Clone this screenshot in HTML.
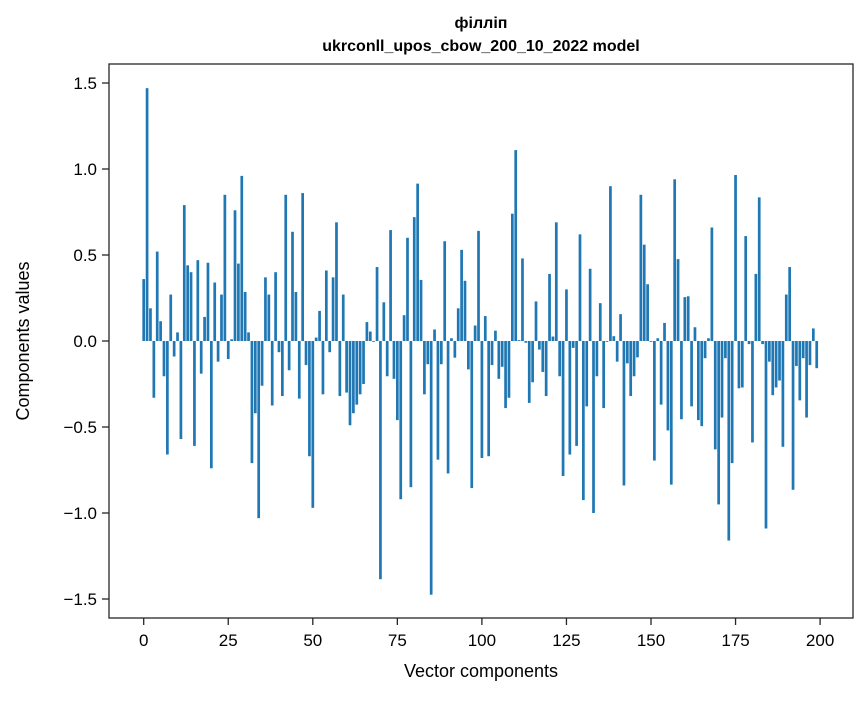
<!DOCTYPE html>
<html><head><meta charset="utf-8"><style>
body{margin:0;background:#fff;}
svg text{font-family:"Liberation Sans","DejaVu Sans",sans-serif;fill:#000;}
</style></head><body>
<svg id="chart" width="867" height="696" xmlns="http://www.w3.org/2000/svg">
<rect width="867" height="696" fill="#fff"/>
<text x="481" y="28" text-anchor="middle" font-size="16" font-weight="bold">філліп</text>
<text x="481" y="51" text-anchor="middle" font-size="16" font-weight="bold">ukrconll_upos_cbow_200_10_2022 model</text>
<g id="bars"></g>
<g id="yticks"></g>
<g id="xticks"></g>
<rect x="109" y="64" width="744" height="554" fill="none" stroke="#262626" stroke-width="1.3"/>
<text x="481" y="677" text-anchor="middle" font-size="18">Vector components</text>
<text x="0" y="0" transform="translate(29,341) rotate(-90)" text-anchor="middle" font-size="18">Components values</text>
</svg>
<script>
const values = [0.36,1.47,0.19,-0.33,0.52,0.115,-0.205,-0.66,0.27,-0.09,0.05,-0.57,0.79,0.44,0.40,-0.61,0.47,-0.19,0.14,0.455,-0.74,0.34,-0.12,0.27,0.85,-0.105,0.01,0.76,0.45,0.96,0.285,0.05,-0.71,-0.42,-1.03,-0.26,0.37,0.27,-0.375,0.40,-0.065,-0.32,0.85,-0.17,0.635,0.285,-0.335,0.86,-0.14,-0.67,-0.97,0.02,0.175,-0.31,0.41,-0.065,0.37,0.69,-0.32,0.27,-0.30,-0.49,-0.42,-0.37,-0.31,-0.25,0.11,0.055,-0.005,0.43,-1.385,0.225,-0.205,0.645,-0.22,-0.46,-0.92,0.15,0.60,-0.85,0.72,0.915,0.355,-0.31,-0.135,-1.475,0.067,-0.69,-0.135,0.58,-0.77,0.016,-0.097,0.19,0.53,0.35,-0.165,-0.855,0.09,0.64,-0.68,0.145,-0.67,-0.14,0.06,-0.22,-0.15,-0.39,-0.33,0.74,1.11,0.005,0.48,-0.01,-0.36,-0.24,0.23,-0.05,-0.18,-0.32,0.39,0.026,0.69,-0.205,-0.785,0.30,-0.66,-0.04,-0.61,0.62,-0.925,-0.38,0.42,-1.0,-0.205,0.22,-0.39,-0.005,0.90,0.028,-0.12,0.156,-0.84,-0.13,-0.32,-0.205,-0.095,0.85,0.56,0.33,-0.005,-0.695,0.016,-0.37,0.105,-0.52,-0.835,0.94,0.476,-0.455,0.255,0.26,-0.38,0.08,-0.46,-0.495,-0.10,0.016,0.66,-0.63,-0.95,-0.445,-0.10,-1.16,-0.71,0.965,-0.275,-0.27,0.61,-0.018,-0.59,0.39,0.835,-0.018,-1.09,-0.12,-0.315,-0.27,-0.23,-0.615,0.27,0.43,-0.865,-0.145,-0.345,-0.10,-0.445,-0.14,0.073,-0.158];
const yTicks = [-1.5,-1.0,-0.5,0.0,0.5,1.0,1.5];
const yTickLabels = ["\u22121.5","\u22121.0","\u22120.5","0.0","0.5","1.0","1.5"];
const xTicks = [0,25,50,75,100,125,150,175,200];
const xTickLabels = ["0","25","50","75","100","125","150","175","200"];

const NS="http://www.w3.org/2000/svg";
function xs(v){return 143.7+v*3.382;}
function ys(v){return 341-v*172;}
const bars=document.getElementById('bars');
values.forEach((v,i)=>{
  const r=document.createElementNS(NS,'rect');
  
  
  const y0=ys(0),y1=ys(v);
  r.setAttribute('x',xs(i-0.4));
  r.setAttribute('width',xs(0.8)-xs(0));
  r.setAttribute('y',Math.min(y0,y1));
  r.setAttribute('height',Math.max(Math.abs(y1-y0),0.3));
  r.setAttribute('fill','#1f77b4');
  bars.appendChild(r);
});
const yg=document.getElementById('yticks');
yTicks.forEach((t,i)=>{
  const l=document.createElementNS(NS,'line');
  
  
  l.setAttribute('x1',102);l.setAttribute('x2',109);
  l.setAttribute('y1',ys(t));l.setAttribute('y2',ys(t));
  l.setAttribute('stroke','#262626');l.setAttribute('stroke-width','1.3');
  yg.appendChild(l);
  const tx=document.createElementNS(NS,'text');
  
  
  tx.setAttribute('x',97);tx.setAttribute('y',ys(t)+6);
  tx.setAttribute('text-anchor','end');tx.setAttribute('font-size','17');
  tx.textContent=yTickLabels[i];
  yg.appendChild(tx);
});
const xg=document.getElementById('xticks');
xTicks.forEach((t,i)=>{
  const l=document.createElementNS(NS,'line');
  
  
  l.setAttribute('x1',xs(t));l.setAttribute('x2',xs(t));
  l.setAttribute('y1',618);l.setAttribute('y2',625);
  l.setAttribute('stroke','#262626');l.setAttribute('stroke-width','1.3');
  xg.appendChild(l);
  const tx=document.createElementNS(NS,'text');
  
  
  tx.setAttribute('x',xs(t));tx.setAttribute('y',646);
  tx.setAttribute('text-anchor','middle');tx.setAttribute('font-size','17');
  tx.textContent=xTickLabels[i];
  xg.appendChild(tx);
});
</script>
</body></html>
